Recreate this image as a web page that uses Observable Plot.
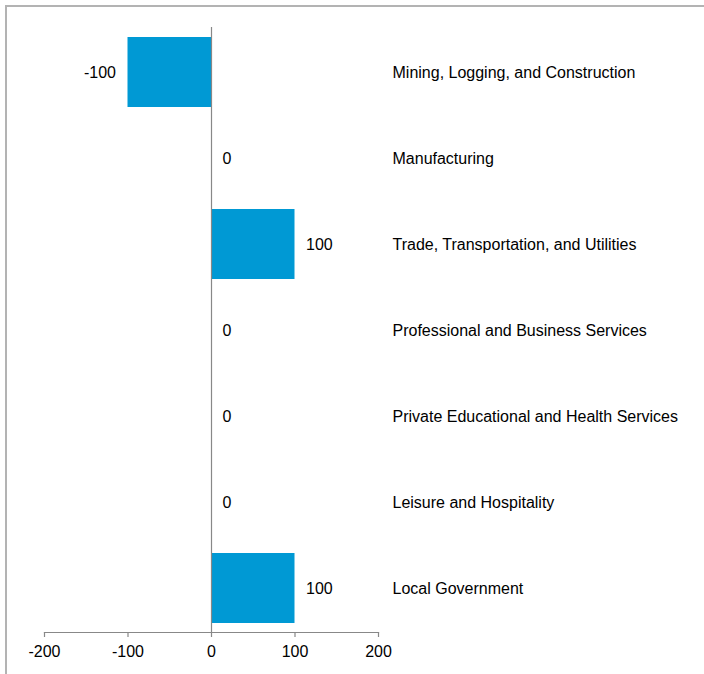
<!DOCTYPE html>
<html>
<head>
<meta charset="utf-8">
<script src="https://cdn.jsdelivr.net/npm/d3@7"></script>
<script src="https://cdn.jsdelivr.net/npm/@observablehq/plot@0.6"></script>
<style>
  html, body { margin: 0; padding: 0; background: #fff; overflow: hidden; }
  #wrap { position: relative; width: 704px; height: 674px; }
  #frame { position: absolute; left: 5px; top: 5px; width: 720px; height: 700px; border: 2px solid #b3b3b3; box-sizing: border-box; }
  #chart { position: absolute; left: 0; top: 0; }
</style>
</head>
<body>
<div id="wrap"><div id="frame"></div><div id="chart"></div></div>
<script>
const categories = [
  "Mining, Logging, and Construction",
  "Manufacturing",
  "Trade, Transportation, and Utilities",
  "Professional and Business Services",
  "Private Educational and Health Services",
  "Leisure and Hospitality",
  "Local Government"
];
const values = [-100, 0, 100, 0, 0, 0, 100];
const xTicks = [-200, -100, 0, 100, 200];

const data = categories.map((c, i) => ({category: c, value: values[i]}));
const font = "'Liberation Sans', Arial, sans-serif";

const chart = Plot.plot({
  width: 704,
  height: 674,
  marginLeft: 44,
  marginRight: 326,
  marginTop: 27,
  marginBottom: 42,
  style: {fontFamily: font, fontSize: "16px", color: "#000", background: "transparent"},
  x: {domain: [-200, 200], ticks: xTicks, tickFormat: d => String(d)},
  y: {domain: categories, paddingInner: 0.19, paddingOuter: 0.095, axis: null},
  marks: [
    Plot.barX(data, {x: "value", y: "category", fill: "#0099d4"}),
    Plot.ruleX([0], {stroke: "#888", strokeWidth: 1.2}),
    Plot.frame({anchor: "bottom", stroke: "#888", strokeWidth: 1.2}),
    Plot.axisX({ticks: xTicks, tickSize: 5, tickPadding: 8, label: null, stroke: "#888", strokeWidth: 1.2, fill: "#000", fontSize: 16, tickFormat: d => String(d)}),
    Plot.text(data.filter(d => d.value < 0), {x: "value", y: "category", text: d => String(d.value), textAnchor: "end", dx: -12, fill: "#000", fontSize: 16}),
    Plot.text(data.filter(d => d.value >= 0), {x: "value", y: "category", text: d => String(d.value), textAnchor: "start", dx: 11, fill: "#000", fontSize: 16}),
    Plot.text(data, {y: "category", text: "category", frameAnchor: "right", textAnchor: "start", dx: 14, fill: "#000", fontSize: 16})
  ]
});
document.getElementById("chart").appendChild(chart);
</script>
</body>
</html>
